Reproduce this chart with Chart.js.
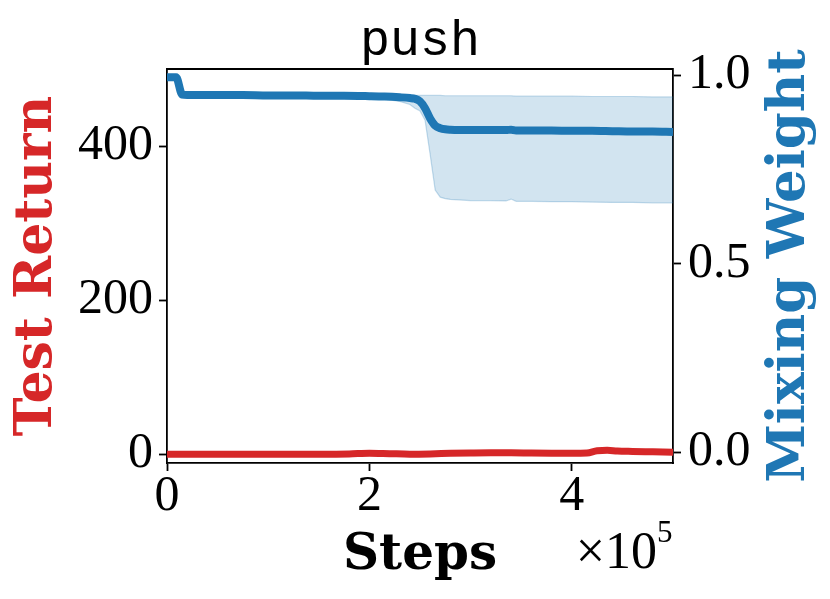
<!DOCTYPE html>
<html>
<head>
<meta charset="utf-8">
<script src="https://cdn.jsdelivr.net/npm/chart.js@4"></script>
<style>
  html, body { margin: 0; padding: 0; background: #fff; }
  #chart { display: block; }
</style>
</head>
<body>
<canvas id="chart" width="830" height="599"></canvas>
<script>
// Mixing weight (right axis), mean and band edges
const weightSteps = [0, 9000, 15000, 20000, 30000, 50000, 75000, 100000, 125000, 150000, 175000, 200000, 215000, 230000, 240000, 245000, 250000, 255000, 260000, 265000, 270000, 275000, 280000, 300000, 320000, 335000, 340000, 345000, 360000, 380000, 400000, 420000, 440000, 460000, 480000, 500000];
const weightMean  = [0.994, 0.994, 0.948, 0.947, 0.947, 0.947, 0.947, 0.946, 0.946, 0.945, 0.945, 0.944, 0.943, 0.941, 0.939, 0.937, 0.930, 0.912, 0.885, 0.866, 0.859, 0.856, 0.855, 0.854, 0.854, 0.854, 0.855, 0.853, 0.853, 0.853, 0.852, 0.852, 0.851, 0.850, 0.850, 0.849];
const weightUpper = [0.996, 0.996, 0.950, 0.949, 0.949, 0.949, 0.949, 0.948, 0.948, 0.947, 0.947, 0.946, 0.946, 0.946, 0.946, 0.946, 0.946, 0.946, 0.946, 0.946, 0.946, 0.945, 0.945, 0.945, 0.945, 0.945, 0.945, 0.944, 0.944, 0.944, 0.944, 0.943, 0.943, 0.943, 0.942, 0.942];
const weightLower = [0.992, 0.992, 0.946, 0.944, 0.944, 0.944, 0.944, 0.943, 0.943, 0.942, 0.941, 0.939, 0.936, 0.930, 0.922, 0.912, 0.905, 0.880, 0.790, 0.695, 0.676, 0.672, 0.670, 0.667, 0.667, 0.666, 0.671, 0.665, 0.665, 0.664, 0.664, 0.663, 0.662, 0.662, 0.661, 0.661];

// Test return (left axis)
const returnSteps  = [0, 50000, 100000, 150000, 180000, 200000, 220000, 240000, 260000, 280000, 300000, 320000, 340000, 360000, 380000, 400000, 415000, 425000, 435000, 445000, 460000, 480000, 500000];
const returnValues = [0, 0, 0, 0, 0.3, 1.2, 0.6, 0, 0.3, 1.0, 1.5, 1.8, 1.8, 1.5, 1.3, 1.2, 1.5, 4.5, 5, 4, 3.5, 3, 2.5];

// Ticks
const stepTicks = [0, 200000, 400000];
const returnTicks = [0, 200, 400];
const weightTicks = [0, 0.5, 1.0];

const BLUE = '#1f77b4';
const RED = '#d62728';
const TICK_FONT = { family: "'Liberation Serif', serif", size: 50, lineHeight: 1 };
const LABEL_FONT = "'DejaVu Serif', serif";

const pts = (xs, ys) => xs.map((x, i) => ({ x: x, y: ys[i] }));

const frameAndLabels = {
  id: 'frameAndLabels',
  afterDraw(chart) {
    const { ctx, chartArea } = chart;
    ctx.save();
    // top edge of the box
    ctx.strokeStyle = '#000';
    ctx.lineWidth = 1.8;
    ctx.beginPath();
    ctx.moveTo(chartArea.left, chartArea.top);
    ctx.lineTo(chartArea.right, chartArea.top);
    ctx.stroke();

    // right axis label, reads bottom to top
    ctx.fillStyle = BLUE;
    ctx.font = "bold 53px " + LABEL_FONT;
    ctx.textAlign = 'center';
    ctx.textBaseline = 'alphabetic';
    ctx.translate(804, (chartArea.top + chartArea.bottom) / 2);
    ctx.rotate(-Math.PI / 2);
    ctx.fillText('Mixing Weight', 0, 0);
    ctx.restore();

    // offset text for x axis
    ctx.save();
    ctx.fillStyle = '#000';
    ctx.textBaseline = 'alphabetic';
    ctx.font = "52px 'Liberation Serif', serif";
    ctx.textAlign = 'right';
    ctx.fillText('\u00d710', 657, 568);
    ctx.font = "31px 'Liberation Serif', serif";
    ctx.textAlign = 'left';
    ctx.fillText('5', 657, 542);
    ctx.restore();
  }
};

new Chart(document.getElementById('chart'), {
  type: 'line',
  data: {
    datasets: [
      {
        label: 'Test Return',
        data: pts(returnSteps, returnValues),
        yAxisID: 'y',
        borderColor: RED,
        borderWidth: 7,
        pointRadius: 0,
        cubicInterpolationMode: 'monotone',
        order: 0
      },
      {
        label: 'Mixing Weight',
        data: pts(weightSteps, weightMean),
        yAxisID: 'y1',
        borderColor: BLUE,
        borderWidth: 8,
        pointRadius: 0,
        cubicInterpolationMode: 'monotone',
        order: 1
      },
      {
        label: 'upper',
        data: pts(weightSteps, weightUpper),
        yAxisID: 'y1',
        borderColor: 'rgba(31,119,180,0.25)',
        borderWidth: 1.2,
        pointRadius: 0,
        fill: false,
        order: 2
      },
      {
        label: 'lower',
        data: pts(weightSteps, weightLower),
        yAxisID: 'y1',
        borderColor: 'rgba(31,119,180,0.25)',
        backgroundColor: 'rgba(31,119,180,0.2)',
        borderWidth: 1.2,
        pointRadius: 0,
        fill: '-1',
        order: 3
      }
    ]
  },
  options: {
    responsive: false,
    animation: false,
    devicePixelRatio: 1,
    layout: { padding: 0 },
    plugins: {
      legend: { display: false },
      tooltip: { enabled: false },
      title: {
        display: true,
        text: 'push',
        color: '#000',
        fullSize: false,
        font: { family: "'Liberation Mono', monospace", size: 50, weight: 'normal', lineHeight: 1 },
        padding: { top: 17, bottom: 2 }
      }
    },
    scales: {
      x: {
        type: 'linear',
        min: 0,
        max: 500000,
        afterFit: s => { s.height = 136; },
        afterBuildTicks: s => { s.ticks = stepTicks.map(v => ({ value: v })); },
        grid: { drawOnChartArea: false, drawTicks: true, tickLength: 8, tickWidth: 1.8, tickColor: '#000' },
        border: { display: true, color: '#000', width: 1.8 },
        ticks: { color: '#000', font: TICK_FONT, padding: 1, maxRotation: 0, callback: v => String(v / 100000) },
        title: {
          display: true,
          text: 'Steps',
          color: '#000',
          font: { family: LABEL_FONT, size: 50, weight: 'bold', lineHeight: 1.2 },
          padding: { top: 0, bottom: 13 }
        }
      },
      y: {
        position: 'left',
        min: -11.5,
        max: 500,
        afterFit: s => { s.width = 167; },
        afterBuildTicks: s => { s.ticks = returnTicks.map(v => ({ value: v })); },
        grid: { drawOnChartArea: false, drawTicks: true, tickLength: 8, tickWidth: 1.8, tickColor: '#000' },
        border: { display: true, color: '#000', width: 1.8 },
        ticks: { color: '#000', font: TICK_FONT, padding: 6 },
        title: {
          display: true,
          text: 'Test Return',
          color: RED,
          font: { family: LABEL_FONT, size: 52, weight: 'bold', lineHeight: 1.2 },
          padding: { top: 6, bottom: 0 }
        }
      },
      y1: {
        position: 'right',
        min: -0.029,
        max: 1.016,
        afterFit: s => { s.width = 157; },
        afterBuildTicks: s => { s.ticks = weightTicks.map(v => ({ value: v })); },
        grid: { drawOnChartArea: false, drawTicks: true, tickLength: 8, tickWidth: 1.8, tickColor: '#000' },
        border: { display: true, color: '#000', width: 1.8 },
        ticks: { color: '#000', font: TICK_FONT, padding: 7, callback: v => v.toFixed(1) }
      }
    }
  },
  plugins: [frameAndLabels]
});
</script>
</body>
</html>
